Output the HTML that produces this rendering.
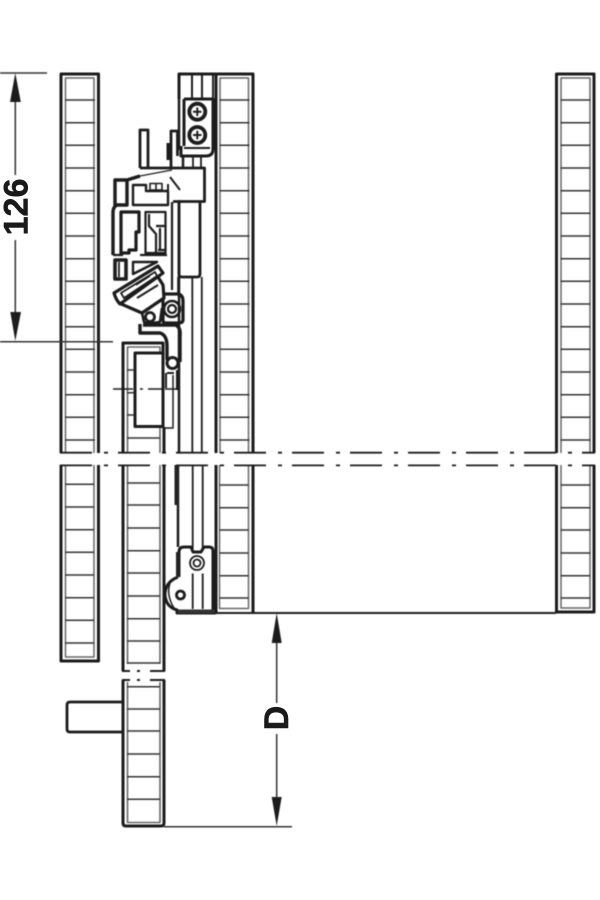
<!DOCTYPE html>
<html><head><meta charset="utf-8"><style>
html,body{margin:0;padding:0;background:#fff;width:600px;height:900px;overflow:hidden}
svg{display:block}
text{font-family:"Liberation Sans",sans-serif;font-weight:bold;fill:#1a1a1a}
</style></head><body>
<svg width="600" height="900" viewBox="0 0 600 900" xmlns="http://www.w3.org/2000/svg" fill="none" stroke="#1c1c1c" stroke-linejoin="round">
<defs>
<path id="r" d="M0 100h30M0 122.7h30M0 145.3h30M0 168h30M0 190.7h30M0 213.3h30M0 236h30M0 258.7h30M0 281.3h30M0 304h30M0 326.7h30M0 349.3h30M0 372h30M0 394.7h30M0 417.3h30M0 440h30"/>
</defs>
<g style="filter:blur(.4px)">
<!-- left panel -->
<path stroke-width="3" d="M61 453V74H98.500V453M61 465V661H98.500V465"/>
<path stroke-width="1.500" stroke="#666" d="M65.500 453V78H94V453M65.500 465V657H94V465"/>
<use href="#r" x="65" stroke-width="1.500" stroke="#333"/>
<path stroke-width="1.500" stroke="#333" d="M65 484.300h29M65 507h29M65 529.700h29M65 552.300h29M65 575h29M65 597.700h29M65 620.300h29M65 643h29"/>
<!-- right panel -->
<path stroke-width="3" d="M556.500 453V74H594V453M556.500 465V612H594V465"/>
<path stroke-width="1.500" stroke="#666" d="M561 453V78H590V453M561 465V608H590V465"/>
<use href="#r" x="560.500" stroke-width="1.500" stroke="#333"/>
<path stroke-width="1.500" stroke="#333" d="M560.500 485h30M560.500 507.700h30M560.500 530h30M560.500 553h30M560.500 575.700h30M560.500 598h30"/>
<!-- second panel -->
<path stroke-width="3" d="M179 99V74H253V453M253 465V613M216 74V453M216 465V613"/>
<path stroke-width="1.500" stroke="#666" d="M220 453V78H248.500V453M219.500 465V608.500H248.500V465"/>
<use href="#r" x="219.500" stroke-width="1.500" stroke="#333"/>
<path stroke-width="1.500" stroke="#333" d="M219.500 485h29M219.500 507.700h29M219.500 530h29M219.500 553h29M219.500 575.700h29M219.500 598h29"/>
<path stroke-width="2" d="M213 74V99M192 74V99M202 74V99"/>
<!-- rails upper -->
<path stroke-width="2.500" d="M179 74V150M179 200V453M183 157V168"/>
<path stroke-width="1.800" d="M192.300 277V453M201.800 277V453M193 157V168M201 157V168"/>
<path stroke-width="2.500" d="M178 465V547"/>
<path stroke-width="4" d="M176.500 465V505" stroke="#222"/>
<path stroke-width="1.800" d="M192.700 465V549M202.700 465V549"/>
<path stroke-width="2" d="M216 613H556"/>
<!-- bracket with screws -->
<path stroke-width="3" d="M184 99H213V149Q213 156 206 156H181V146"/>
<path stroke-width="3" d="M184 99V146"/>
<path stroke-width="2" d="M184 148H210"/>
<circle cx="197.300" cy="111.700" r="8" stroke-width="3.800"/>
<circle cx="197.300" cy="135" r="8" stroke-width="3.800"/>
<path stroke-width="2" d="M193 111.700h8.500M197.300 107.500v8.500M193 135h8.500M197.300 130.700v8.500"/>
<!-- posts -->
<path stroke-width="2.800" d="M140 168V130H148V168M171 168V131H177.500V156"/>
<path stroke-width="4" d="M168.500 143V160"/>
<!-- top block -->
<path stroke-width="2.800" d="M140 168H204.500V201.500H173"/>
<path stroke-width="1.200" d="M140 176L172 170"/>
<path stroke-width="2.800" d="M179 201V274Q179 277 182 277H197Q200 277 200 274V201"/>
<path stroke-width="2" d="M170 177L180 190M168 184V191"/>
<path stroke-width="2.200" d="M172 202V290"/>
<path stroke-width="1.600" d="M178 277V293"/>
<!-- housing -->
<path stroke-width="3.400" d="M140 176L127 180H115V205H127V180M127 205H117Q113 207 113 212V255"/>
<path stroke-width="2.400" d="M133 185H146V191H168V205H133Z"/>
<path stroke-width="1.600" d="M150 183.500h12v6.500h-12zM156 183.500v6.500"/>
<path stroke-width="3.200" d="M121 212H139V232H136V250H129V253H121Z"/>
<path stroke-width="2.200" d="M145.500 212H165.500V253H145.500ZM149 214V226L156 234V253M156 226H165.500V250H158M160 228V250"/>
<path stroke-width="2.200" d="M113 255H123M140 255H167"/>
<path stroke-width="3.600" d="M115 260H126V279H115Z"/>
<path stroke-width="1.800" d="M119 262V277"/>
<path stroke-width="2.400" d="M133 262H157L133 274Z"/>
<!-- latch bar -->
<path stroke-width="3.200" d="M114 293L158 266L163 273L120 304Q116 300 114 293Z"/>
<path stroke-width="1.800" d="M121 293L155 272L157 276L124 298Z"/>
<path stroke-width="1.500" d="M136 285L150 276"/>
<!-- latch body -->
<path stroke-width="3.200" d="M119 303L142 313L164 298L163 285L158 277"/>
<path stroke-width="2.600" d="M142 313L144 322Q148 324 160 322L162 308"/>
<path stroke-width="2" d="M137 298L158 285"/>
<circle cx="150" cy="317" r="4.500" stroke-width="2.800"/>
<!-- roller -->
<path stroke-width="3.200" d="M165 294H178Q183 295 183 301V320Q183 323 178 323H165Q163 323 163 319V298"/>
<circle cx="172" cy="309" r="8" stroke-width="2.600"/>
<circle cx="172" cy="309" r="4" stroke-width="2.200"/>
<!-- arm -->
<path stroke-width="3.400" d="M143 325H176Q181 328 180 336V362M140 324V333H160Q167 335 167 346V360"/>
<circle cx="172.500" cy="363" r="5.500" stroke-width="3"/>
<path stroke-width="2" d="M167 373H174M166 373V388M177 370V390"/>
<path stroke-width="1.500" d="M173 375V428H164"/>
<!-- middle panel -->
<path stroke-width="3" d="M123 453V343H163V353M164 427V453M123 465V671M164 465V671"/>
<path stroke-width="1.600" stroke="#666" d="M127.500 453V347H160V353M160 427V453M127.500 465V671M160 465V671"/>
<rect x="135" y="353" width="28" height="73.500" fill="#fff" stroke-width="3"/>
<path stroke-width="1.500" stroke="#333" d="M127 370h7M127 392.700h7M127 415h7M127 438h33M127 483h33M127 505h33M127 528h33M127 550.700h33M127 573h33M127 596h33M127 618.700h33M127 641h33M127 663h33"/>
<path stroke-width="1.500" d="M113 389H133M140 389H143M148 389H163M165 389H177"/>
<!-- break -->
<rect x="125" y="664" width="36" height="18" fill="#fff" stroke="none"/>
<path stroke-width="2" d="M122 671H130M137 671H140M150 671H165M122 680H130M137 680H140M150 680H165"/>
<!-- bottom of door -->
<path stroke-width="3" d="M123 680V823Q123 826 126 826H161Q164 826 164 823V680"/>
<path stroke-width="1.600" stroke="#666" d="M127.500 682V822.500H160V682"/>
<path stroke-width="1.500" stroke="#333" d="M127 686.700h33M127 709h33M127 731h33M127 754h33M127 776.700h33M127 799.300h33"/>
<path stroke-width="2.800" d="M122 702H70Q67 702 67 705V729Q67 732 70 732H122"/>
<!-- lower hook -->
<path stroke-width="3" d="M179 577V552Q179 547 184 547H191L193 552H201L204 547H209Q213 547 213 551V612"/>
<path stroke-width="3" d="M178 577Q165 582 165 595Q166 607 177 610V613H216"/>
<path stroke-width="1.500" d="M170 583Q166 595 174 608"/>
<path stroke-width="4" d="M178 552V576" stroke="#222"/>
<circle cx="197" cy="563" r="7" stroke-width="1.800"/>
<circle cx="197" cy="563" r="3.500" stroke-width="1.800"/>
<circle cx="180.500" cy="595" r="4" stroke-width="2.800"/>
<path stroke-width="1.800" d="M192.700 573.500V609M202.700 573.500V609"/>
<path stroke-width="4" d="M178 611.500H215" stroke="#333"/>
<!-- dash-dot lines -->
<path stroke-width="1.800" stroke-dasharray="32 12 4 10" d="M60 452.700H595M60 465.400H595"/>
<!-- dimension 126 -->
<path stroke-width="1.500" stroke="#333" d="M0 73H47M0 341.700H113"/>
<path stroke-width="1.500" stroke="#333" d="M15.300 95V175M15.300 240V315"/>
<path fill="#1c1c1c" stroke="none" d="M15.300 73L20.800 102H10ZM15.300 341L10.300 312H21Z"/>
<!-- dimension D -->
<path stroke-width="1.500" stroke="#333" d="M164 826.700H292M276.700 635V703M276.700 734V805"/>
<path fill="#1c1c1c" stroke="none" d="M276.700 613L281.700 643H271.700ZM276.700 826L271.700 797H281.700Z"/>
</g>
<text transform="translate(27.500,207) rotate(-90)" font-size="34" text-anchor="middle" stroke="#1a1a1a" stroke-width=".6">126</text>
<text transform="translate(288,718) rotate(-90)" font-size="34" text-anchor="middle" stroke="#1a1a1a" stroke-width=".6">D</text>
</svg>
</body></html>
